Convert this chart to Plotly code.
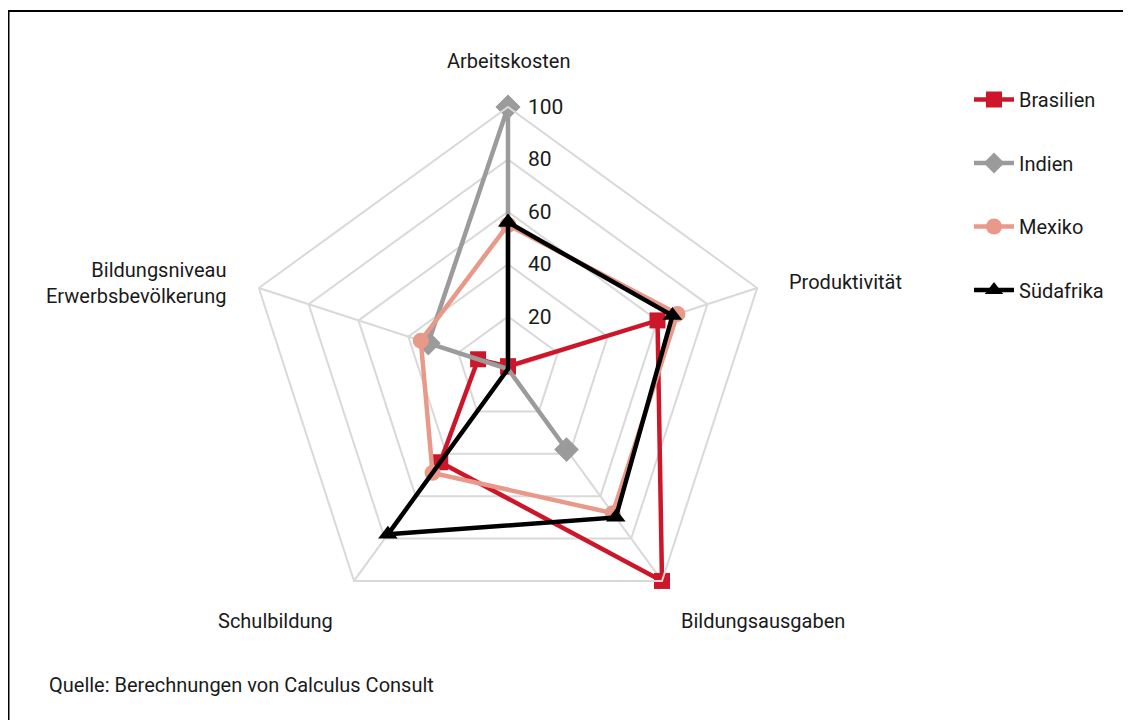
import plotly.graph_objects as go

categories = ["Arbeitskosten", "Produktivität", "Bildungsausgaben", "Schulbildung",
              "Bildungsniveau Erwerbsbevölkerung"]
brasilien = [1, 60, 100, 44, 12]
indien = [100, 0, 38, 0, 32]
mexiko = [55, 68, 68, 49, 35]
suedafrika = [56, 66, 70, 78, 0]
radial_ticks = [20, 40, 60, 80, 100]

series = [
    ("Brasilien", brasilien, "#cd1629", "square", 16),
    ("Indien", indien, "#9b9b9b", "diamond", 19),
    ("Mexiko", mexiko, "#e8998a", "circle", 16),
    ("Südafrika", suedafrika, "#000000", "triangle-up", 17),
]

FONT = "Roboto"
FS = 20
OFF = 8                      # page body margin
W, H = 1131 - OFF, 720 - OFF
CX, CY, R = 508 - OFF, 369 - OFF, 262


def px(x):
    return (x - OFF) / W


def py(y):
    return 1 - (y - OFF) / H


fig = go.Figure()
for name, vals, color, sym, size in series:
    fig.add_trace(go.Scatterpolar(
        r=vals + vals[:1],
        theta=categories + categories[:1],
        mode="lines+markers",
        name=name,
        legendgroup=name,
        line=dict(color=color, width=4.5),
        marker=dict(symbol=sym, size=size, color=color),
        cliponaxis=False,
    ))

fig.update_layout(
    width=W, height=H,
    margin=dict(l=0, r=0, t=0, b=0),
    paper_bgcolor="white",
    plot_bgcolor="white",
    font=dict(family=FONT, size=FS, color="#1a1a1a"),
    polar=dict(
        domain=dict(x=[(CX - R) / W, (CX + R) / W], y=[1 - (CY + R) / H, 1 - (CY - R) / H]),
        bgcolor="white",
        gridshape="linear",
        radialaxis=dict(
            range=[0, 100], tickvals=radial_ticks, angle=90,
            showline=False, ticks="", showticklabels=False,
            gridcolor="#d9d9d9", gridwidth=2,
        ),
        angularaxis=dict(
            rotation=90, direction="clockwise", showticklabels=False, ticks="",
            gridcolor="#d9d9d9", gridwidth=2, linecolor="#d9d9d9", linewidth=2,
        ),
    ),
    legend=dict(
        x=px(969), y=py(80), xanchor="left", yanchor="top",
        font=dict(size=FS, family=FONT, color="#1a1a1a"),
        tracegroupgap=34.5, itemwidth=40, bgcolor="rgba(0,0,0,0)",
    ),
    showlegend=True,
)

# radial tick labels, placed along the top axis from the radial scale
for v in radial_ticks:
    fig.add_annotation(
        x=(CX + 18) / W, y=1 - (CY - R * v / 100) / H, xref="paper", yref="paper",
        text=str(v), showarrow=False, xanchor="left", yanchor="middle",
        font=dict(size=21, family=FONT, color="#1a1a1a"),
    )

labels = [
    ("Arbeitskosten", 508, 61, "center"),
    ("Produktivität", 787, 282, "left"),
    ("Bildungsausgaben", 763, 621, "center"),
    ("Schulbildung", 275, 621, "center"),
    ("Bildungsniveau<br>Erwerbsbevölkerung", 228, 283, "right"),
]
for text, lx, ly, anchor in labels:
    fig.add_annotation(
        x=px(lx), y=py(ly), xref="paper", yref="paper", text=text,
        showarrow=False, xanchor=anchor, yanchor="middle", align=anchor,
        font=dict(size=FS, family=FONT, color="#1a1a1a"),
    )

fig.add_annotation(
    x=px(47), y=py(685), xref="paper", yref="paper",
    text="Quelle: Berechnungen von Calculus Consult", showarrow=False,
    xanchor="left", yanchor="middle",
    font=dict(size=FS, family=FONT, color="#1a1a1a"),
)

fig.add_shape(
    type="rect", xref="paper", yref="paper",
    x0=px(8.5), x1=1.02, y0=-0.02, y1=py(11),
    line=dict(color="black", width=2), layer="below",
)

fig.write_html("out.html")
